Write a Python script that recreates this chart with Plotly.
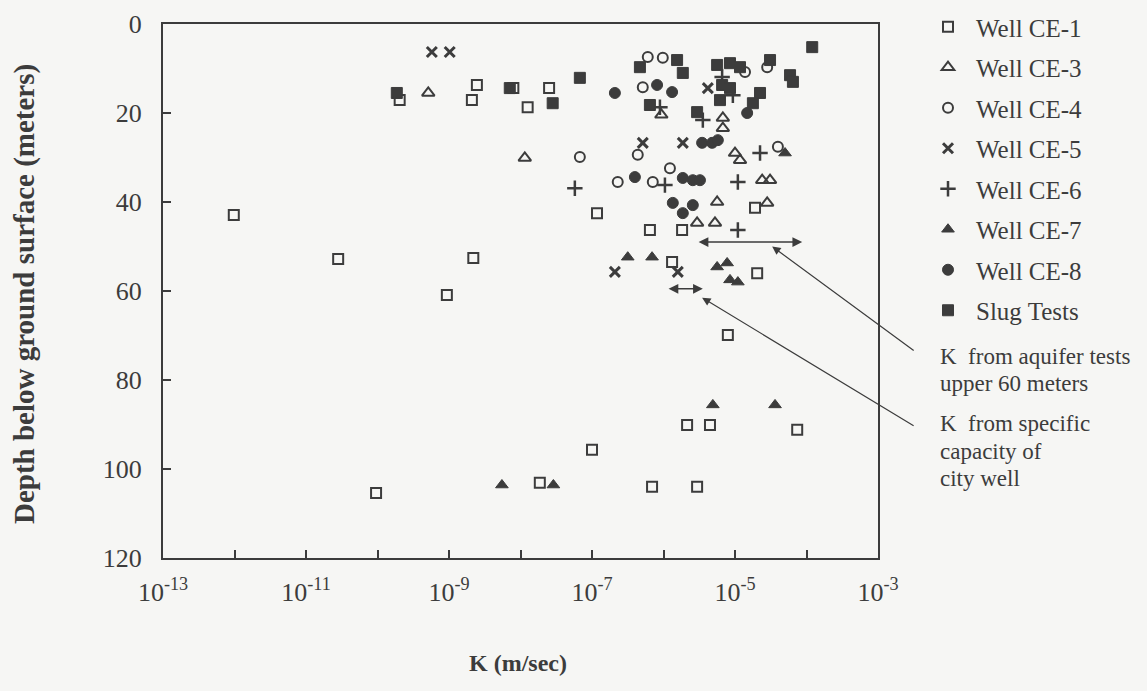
import plotly.graph_objects as go

# ---------------- data (log10 K in m/s, depth in m) ----------------
ce1_logk = [-12.01, -10.55, -10.02, -9.69, -9.03, -8.68, -8.61, -8.66, -7.90, -7.60, -8.10,
            -7.73, -7.00, -6.93, -6.19, -6.16, -5.88, -5.74, -5.67, -5.53, -5.35, -5.10,
            -4.72, -4.69, -4.13]
ce1_depth = [42.9, 52.8, 105.4, 17.1, 60.9, 17.1, 13.7, 52.6, 18.7, 14.4, 14.4,
             103.1, 95.7, 42.5, 46.3, 104.0, 53.5, 46.3, 90.1, 104.0, 90.1, 69.9,
             41.3, 56.0, 91.2]

ce3_logk = [-9.29, -7.94, -6.03, -5.17, -5.17, -5.00, -4.93, -4.62, -4.51, -5.25, -5.28, -5.53, -4.55]
ce3_depth = [15.5, 30.1, 20.4, 21.1, 23.4, 29.0, 30.6, 35.1, 35.1, 40.0, 44.7, 44.7, 40.2]

ce4_logk = [-7.17, -6.36, -6.64, -6.15, -5.91, -6.22, -6.01, -6.29, -4.86, -4.55, -4.40]
ce4_depth = [29.9, 29.4, 35.5, 35.5, 32.4, 7.4, 7.6, 14.2, 10.8, 9.7, 27.6]

ce5_logk = [-9.24, -8.99, -6.68, -6.29, -5.80, -5.73, -5.38]
ce5_depth = [6.3, 6.3, 55.7, 26.7, 55.7, 26.7, 14.4]

ce6_logk = [-7.24, -6.05, -5.45, -5.18, -4.96, -4.96, -4.65, -5.98, -5.03]
ce6_depth = [36.9, 18.7, 21.6, 11.9, 35.5, 46.3, 29.0, 36.2, 16.0]

ce7_logk = [-8.26, -7.54, -5.31, -4.44, -6.50, -6.16, -5.25, -5.11, -5.07, -4.96, -4.30]
ce7_depth = [103.6, 103.6, 85.6, 85.6, 52.4, 52.4, 54.6, 53.7, 57.5, 58.0, 29.0]

ce8_logk = [-6.68, -6.09, -5.88, -6.40, -5.73, -5.59, -5.49, -5.87, -5.59, -5.73, -5.46, -5.32, -5.24, -4.83]
ce8_depth = [15.5, 13.7, 15.3, 34.4, 34.6, 35.1, 35.1, 40.2, 40.7, 42.5, 26.7, 26.7, 26.1, 20.0]

slug_logk = [-9.73, -8.15, -7.55, -7.17, -6.33, -5.81, -5.73, -6.19, -5.53, -5.25, -5.07, -4.93,
             -5.18, -5.07, -5.21, -4.51, -4.23, -4.19, -3.92, -4.65, -4.75]
slug_depth = [15.5, 14.4, 17.8, 12.1, 9.7, 8.1, 11.0, 18.2, 19.8, 9.2, 8.8, 9.7,
              13.7, 14.4, 17.1, 8.1, 11.5, 13.0, 5.2, 15.5, 17.8]

# range bars (log10 K from, to; depth)
aquifer_range = [-5.53, -4.06]
aquifer_depth = 49.0
city_range = [-5.95, -5.45]
city_depth = 59.5

x_exponents = list(range(-13, -2))
y_ticks = [0, 20, 40, 60, 80, 100, 120]

# ---------------- figure ----------------
INK = "#3c3c3c"
FONT = "Liberation Serif"

series = [
    ("Well CE-1", ce1_logk, ce1_depth, "square-open", 10, 2),
    ("Well CE-3", ce3_logk, ce3_depth, "triangle-up-open", 11, 2),
    ("Well CE-4", ce4_logk, ce4_depth, "circle-open", 10, 2),
    ("Well CE-5", ce5_logk, ce5_depth, "x-thin-open", 10, 3),
    ("Well CE-6", ce6_logk, ce6_depth, "cross-thin-open", 11, 2.5),
    ("Well CE-7", ce7_logk, ce7_depth, "triangle-up", 11, 1),
    ("Well CE-8", ce8_logk, ce8_depth, "circle", 11, 1),
    ("Slug Tests", slug_logk, slug_depth, "square", 11, 1),
]

fig = go.Figure()
for i, (name, lk, d, sym, size, lw) in enumerate(series):
    fig.add_trace(go.Scatter(
        x=[10 ** v for v in lk], y=d, mode="markers", name=name,
        legendgroup=f"g{i}",
        marker=dict(symbol=sym, size=size, color=INK, line=dict(color=INK, width=lw)),
    ))

# double arrows (range bars)
for rng, dep in [(aquifer_range, aquifer_depth), (city_range, city_depth)]:
    fig.add_annotation(x=rng[1], y=dep, ax=rng[0], ay=dep, xref="x", yref="y",
                       axref="x", ayref="y", showarrow=True, arrowhead=2,
                       arrowside="end+start", arrowsize=1.3, arrowwidth=1.5,
                       arrowcolor=INK, text="")

# pointer lines from the labels
fig.add_annotation(x=-4.48, y=50.0, xref="x", yref="y", ax=143, ay=105,
                   showarrow=True, arrowhead=2, arrowsize=1.4, arrowwidth=1.2,
                   arrowcolor=INK, text="")
fig.add_annotation(x=-5.46, y=61.5, xref="x", yref="y", ax=213, ay=129,
                   showarrow=True, arrowhead=2, arrowsize=1.4, arrowwidth=1.2,
                   arrowcolor=INK, text="")

W, H = 1147, 691
L, R, T, B = 163, 878, 24, 558
pw, ph = R - L, B - T


def px(xp):
    return (xp - L) / pw


def py(yp):
    return 1 - (yp - T) / ph


notes = [
    ("K  from aquifer tests", 356),
    ("upper 60 meters", 383),
    ("K  from specific", 423),
    ("capacity of", 451),
    ("city well", 478),
]
for txt, yy in notes:
    fig.add_annotation(x=px(938), y=py(yy), xref="paper", yref="paper", text=txt,
                       showarrow=False, xanchor="left", yanchor="middle",
                       font=dict(family=FONT, size=23, color=INK))

fig.add_annotation(x=px(24), y=py(294), xref="paper", yref="paper",
                   text="<b>Depth below ground surface (meters)</b>", textangle=-90,
                   showarrow=False, xanchor="center", yanchor="middle",
                   font=dict(family=FONT, size=29, color=INK))
fig.add_annotation(x=px(518), y=py(663), xref="paper", yref="paper",
                   text="<b>K (m/sec)</b>", showarrow=False, xanchor="center",
                   yanchor="middle", font=dict(family=FONT, size=24, color=INK))

ticktext = [f"10<sup>{e}</sup>" if e % 2 else "" for e in x_exponents]

fig.update_xaxes(type="log", range=[-13, -3],
                 tickvals=[10 ** e for e in x_exponents], ticktext=ticktext,
                 ticks="inside", ticklen=8, tickwidth=2, tickcolor=INK,
                 showline=True, linewidth=2, linecolor=INK, mirror=True,
                 showgrid=False, zeroline=False, ticklabelstandoff=10,
                 tickfont=dict(family=FONT, size=26, color=INK))
fig.update_yaxes(range=[120, 0], tickvals=y_ticks,
                 ticks="inside", ticklen=8, tickwidth=2, tickcolor=INK,
                 showline=True, linewidth=2, linecolor=INK, mirror=True,
                 showgrid=False, zeroline=False, ticklabelstandoff=14,
                 tickfont=dict(family=FONT, size=26, color=INK))

fig.update_layout(
    width=W, height=H, autosize=False,
    margin=dict(l=L, r=W - R, t=T, b=H - B, autoexpand=False),
    paper_bgcolor="#f6f6f4", plot_bgcolor="#f6f6f4",
    showlegend=True,
    legend=dict(x=px(920), y=py(4), xanchor="left", yanchor="top",
                bgcolor="rgba(0,0,0,0)", tracegroupgap=5, itemwidth=46,
                maxheight=600,
                font=dict(family=FONT, size=25, color=INK)),
)

fig.write_html("out.html")
